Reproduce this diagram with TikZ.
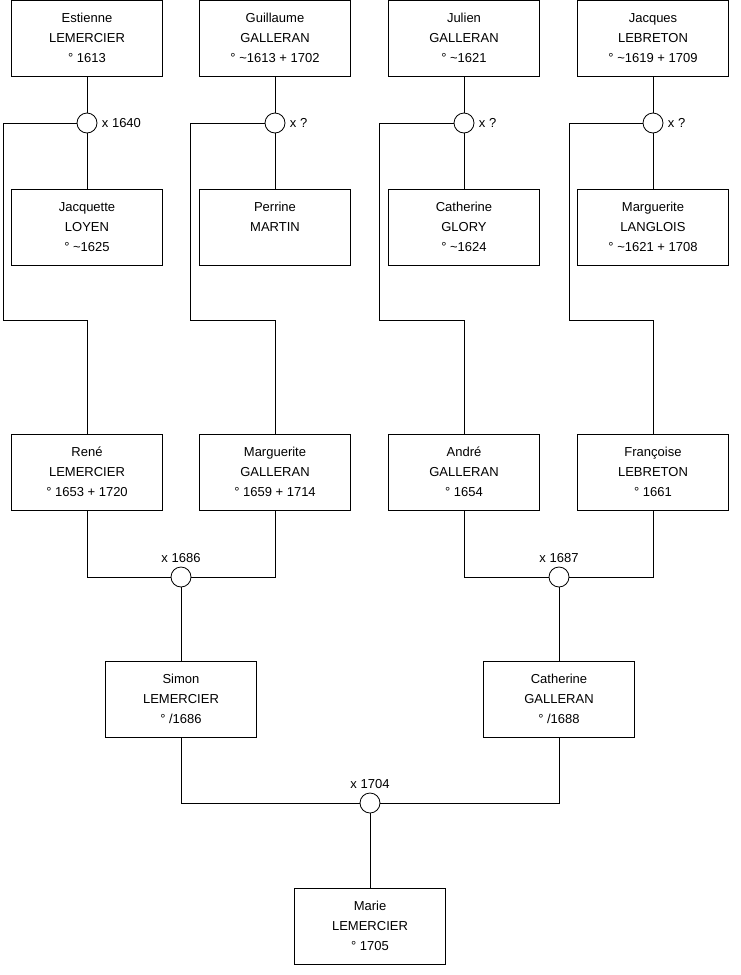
\documentclass[tikz,border=0pt]{standalone}
\usepackage{fontspec}
\setmainfont{Liberation Sans}
\usepackage{tikz}
\usetikzlibrary{positioning}

\tikzset{
  pers/.style={draw, line width=0.8pt, minimum width=151pt, minimum height=76pt,
    inner sep=0pt, align=center},
  mar/.style={draw, circle, fill=white, line width=0.8pt, minimum size=20pt, inner sep=0pt},
  lien/.style={line width=0.8pt}
}
\newcommand{\env}{\textasciitilde}

\begin{document}
\begin{tikzpicture}[x=1pt, y=-1pt, font=\fontsize{13}{20}\selectfont]
    \useasboundingbox (0,0) rectangle (740,975);

    % Arrière-grands-parents
    \node[pers] (estienne) at (87,38)  {Estienne\\LEMERCIER\\° 1613};
    \node[pers] (guillaume) at (275,38) {Guillaume\\GALLERAN\\° \env1613 + 1702};
    \node[pers] (julien) at (464,38)   {Julien\\GALLERAN\\° \env1621};
    \node[pers] (jacques) at (653,38)  {Jacques\\LEBRETON\\° \env1619 + 1709};

    \node[pers] (jacquette) at (87,227)  {Jacquette\\LOYEN\\° \env1625};
    \node[pers] (perrine) at (275,227)   {Perrine\\MARTIN\\\mbox{}};
    \node[pers] (catherineg) at (464,227) {Catherine\\GLORY\\° \env1624};
    \node[pers] (marguerite) at (653,227) {Marguerite\\LANGLOIS\\° \env1621 + 1708};

    % Mariages
    \node[mar, label={[label distance=1pt]right:x 1640}] (m1) at (87,123) {};
    \node[mar, label={[label distance=1pt]right:x ?}] (m2) at (275,123) {};
    \node[mar, label={[label distance=1pt]right:x ?}] (m3) at (464,123) {};
    \node[mar, label={[label distance=1pt]right:x ?}] (m4) at (653,123) {};
    \draw[lien] (estienne) -- (m1) -- (jacquette);
    \draw[lien] (guillaume) -- (m2) -- (perrine);
    \draw[lien] (julien) -- (m3) -- (catherineg);
    \draw[lien] (jacques) -- (m4) -- (marguerite);

    % Grands-parents
    \node[pers] (rene) at (87,472)      {René\\LEMERCIER\\° 1653 + 1720};
    \node[pers] (margg) at (275,472)    {Marguerite\\GALLERAN\\° 1659 + 1714};
    \node[pers] (andre) at (464,472)    {André\\GALLERAN\\° 1654};
    \node[pers] (francoise) at (653,472) {Françoise\\LEBRETON\\° 1661};

    \coordinate (k1) at (3,320);
    \coordinate (k2) at (190,320);
    \coordinate (k3) at (379,320);
    \coordinate (k4) at (569,320);
    \draw[lien] (m1.west) -| (k1) -| (rene.north);
    \draw[lien] (m2.west) -| (k2) -| (margg.north);
    \draw[lien] (m3.west) -| (k3) -| (andre.north);
    \draw[lien] (m4.west) -| (k4) -| (francoise.north);

    % Parents
    \node[mar, label={[label distance=0pt]above:x 1686}] (m5) at (181,577) {};
    \node[mar, label={[label distance=0pt]above:x 1687}] (m6) at (559,577) {};
    \draw[lien] (rene.south) |- (m5.west);
    \draw[lien] (margg.south) |- (m5.east);
    \draw[lien] (andre.south) |- (m6.west);
    \draw[lien] (francoise.south) |- (m6.east);

    \node[pers] (simon) at (181,699)     {Simon\\LEMERCIER\\° /1686};
    \node[pers] (catherine) at (559,699) {Catherine\\GALLERAN\\° /1688};
    \draw[lien] (m5) -- (simon);
    \draw[lien] (m6) -- (catherine);

    % Marie
    \node[mar, label={[label distance=0pt]above:x 1704}] (m7) at (370,803) {};
    \draw[lien] (simon.south) |- (m7.west);
    \draw[lien] (catherine.south) |- (m7.east);
    \node[pers] (marie) at (370,926) {Marie\\LEMERCIER\\° 1705};
    \draw[lien] (m7) -- (marie);

\end{tikzpicture}
\end{document}
